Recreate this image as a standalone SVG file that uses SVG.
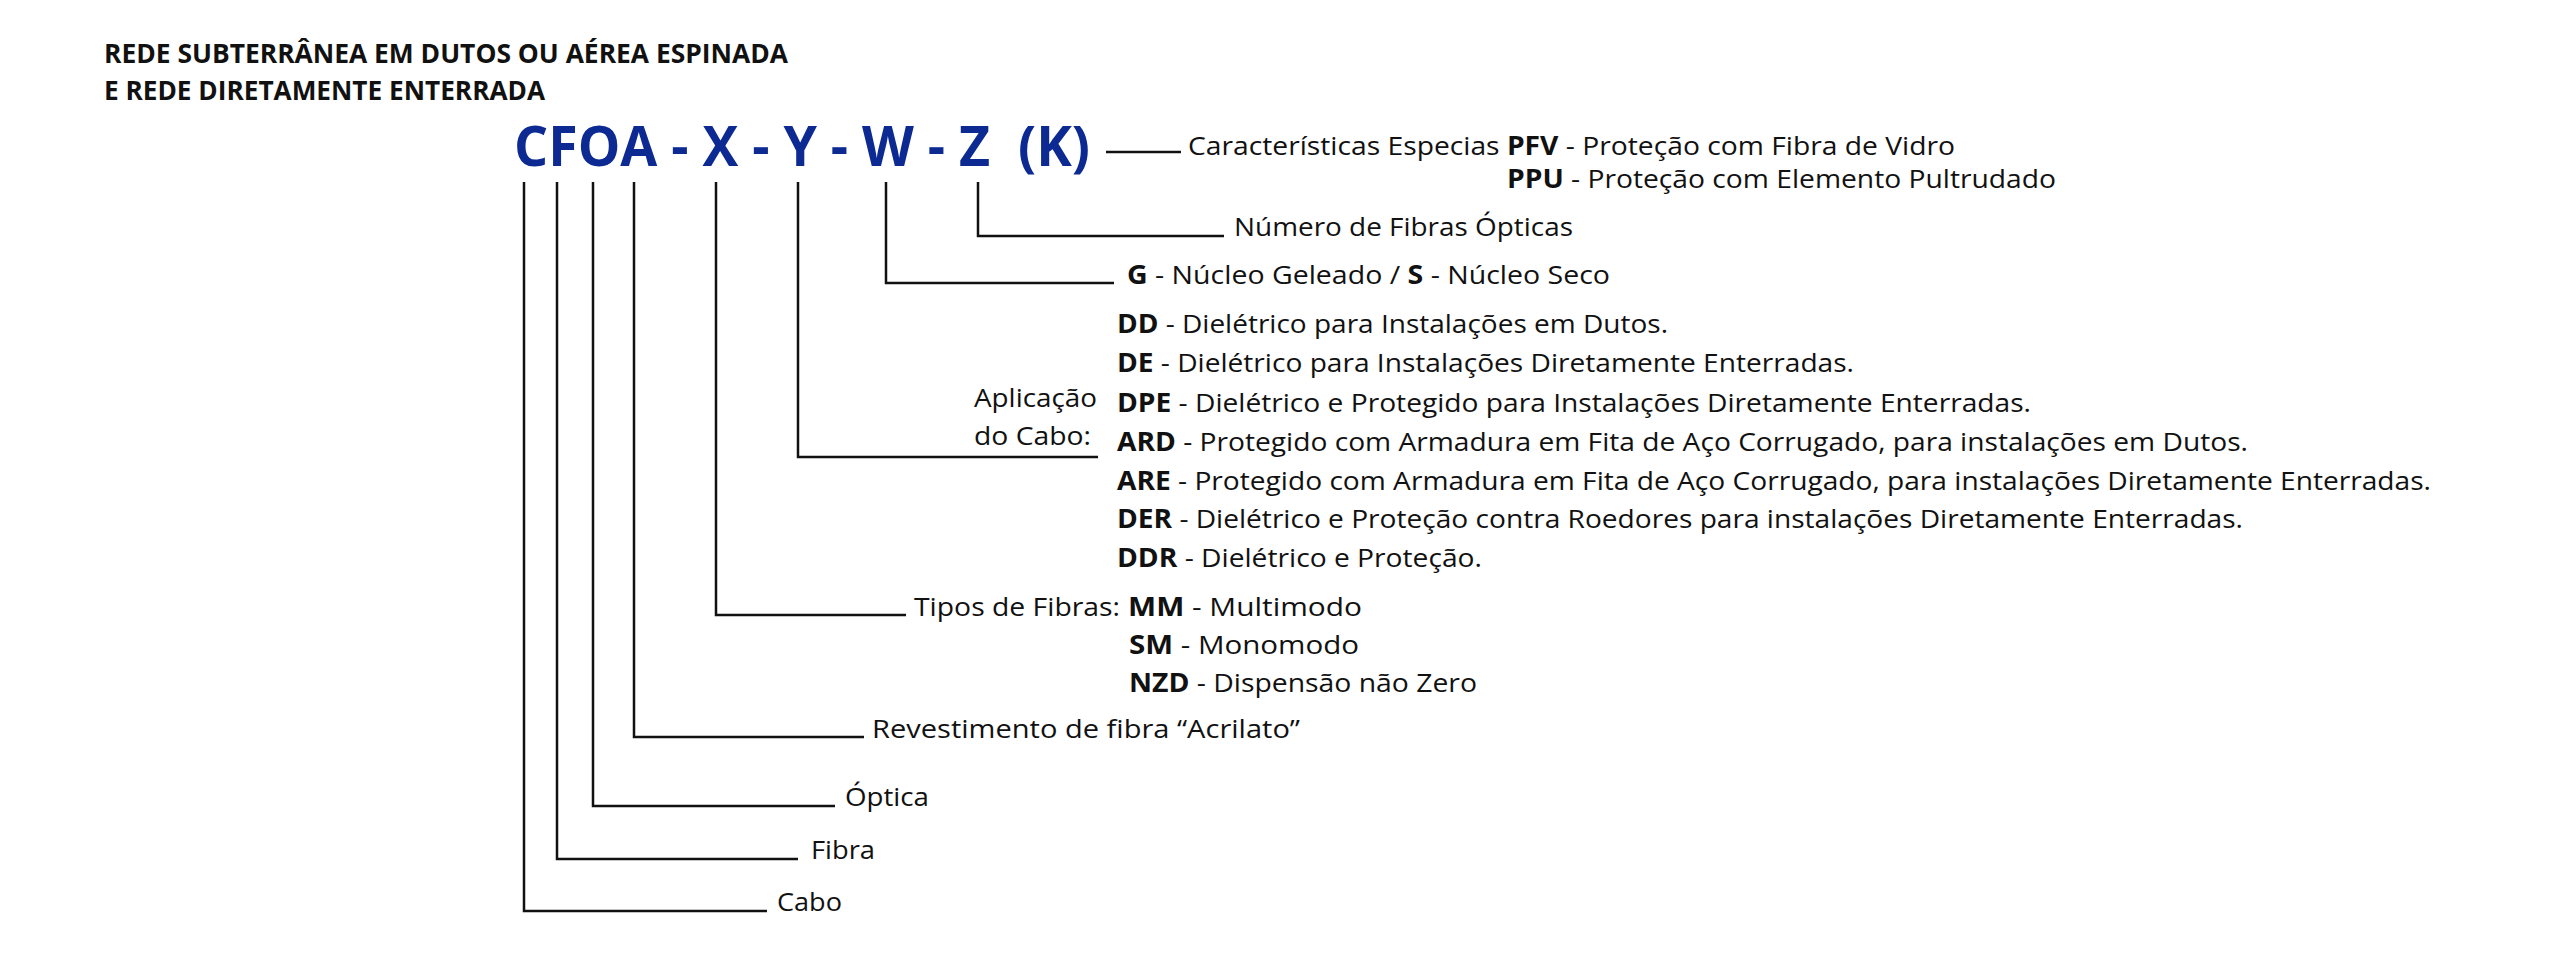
<svg xmlns="http://www.w3.org/2000/svg" width="2560" height="959" viewBox="0 0 2560 959">
<style>
text{font-family:"Open Sans","Liberation Sans",sans-serif;font-size:26px;fill:#111}
.t{font-weight:bold;font-size:26px}
.b{font-weight:bold}
.code{font-weight:bold;font-size:56px;fill:#0c2a92}
.c line,.c polyline{stroke:#111;stroke-width:2.5;fill:none}
</style>
<rect width="2560" height="959" fill="#fff"/>
<g id="title">
<text class="t" x="104" y="63" textLength="684" lengthAdjust="spacingAndGlyphs">REDE SUBTERRÂNEA EM DUTOS OU AÉREA ESPINADA</text>
<text class="t" x="104" y="100" textLength="441" lengthAdjust="spacingAndGlyphs">E REDE DIRETAMENTE ENTERRADA</text>
</g>
<g id="code"><text class="code" x="514" y="166" textLength="576" lengthAdjust="spacingAndGlyphs" xml:space="preserve">CFOA - X - Y - W - Z  (K)</text></g>
<g class="c" id="connectors">
<line x1="1106" y1="152" x2="1181" y2="152"/>
<polyline points="978,182 978,236 1224,236"/>
<polyline points="886,182 886,283 1114,283"/>
<polyline points="798,182 798,457 1098,457"/>
<polyline points="716,182 716,615 906,615"/>
<polyline points="634,182 634,737 864,737"/>
<polyline points="593,182 593,806 835,806"/>
<polyline points="557,182 557,859 798,859"/>
<polyline points="524,182 524,911 767,911"/>
</g>
<g id="k">
<text x="1188" y="155" textLength="767" lengthAdjust="spacingAndGlyphs">Características Especias <tspan class="b">PFV</tspan> - Proteção com Fibra de Vidro</text>
<text x="1507" y="188" textLength="549" lengthAdjust="spacingAndGlyphs"><tspan class="b">PPU</tspan> - Proteção com Elemento Pultrudado</text>
</g>
<g id="z"><text x="1234" y="236" textLength="339" lengthAdjust="spacingAndGlyphs">Número de Fibras Ópticas</text></g>
<g id="w"><text x="1127" y="284" textLength="483" lengthAdjust="spacingAndGlyphs"><tspan class="b">G</tspan> - Núcleo Geleado / <tspan class="b">S</tspan> - Núcleo Seco</text></g>
<g id="y">
<text x="974" y="407" textLength="123" lengthAdjust="spacingAndGlyphs">Aplicação</text>
<text x="974" y="445" textLength="117" lengthAdjust="spacingAndGlyphs">do Cabo:</text>
<text x="1117" y="333" textLength="551" lengthAdjust="spacingAndGlyphs"><tspan class="b">DD</tspan> - Dielétrico para Instalações em Dutos.</text>
<text x="1117" y="372" textLength="737" lengthAdjust="spacingAndGlyphs"><tspan class="b">DE</tspan> - Dielétrico para Instalações Diretamente Enterradas.</text>
<text x="1117" y="412" textLength="914" lengthAdjust="spacingAndGlyphs"><tspan class="b">DPE</tspan> - Dielétrico e Protegido para Instalações Diretamente Enterradas.</text>
<text x="1117" y="451" textLength="1131" lengthAdjust="spacingAndGlyphs"><tspan class="b">ARD</tspan> - Protegido com Armadura em Fita de Aço Corrugado, para instalações em Dutos.</text>
<text x="1117" y="490" textLength="1314" lengthAdjust="spacingAndGlyphs"><tspan class="b">ARE</tspan> - Protegido com Armadura em Fita de Aço Corrugado, para instalações Diretamente Enterradas.</text>
<text x="1117" y="528" textLength="1126" lengthAdjust="spacingAndGlyphs"><tspan class="b">DER</tspan> - Dielétrico e Proteção contra Roedores para instalações Diretamente Enterradas.</text>
<text x="1117" y="567" textLength="365" lengthAdjust="spacingAndGlyphs"><tspan class="b">DDR</tspan> - Dielétrico e Proteção.</text>
</g>
<g id="x">
<text x="914" y="616" textLength="206" lengthAdjust="spacingAndGlyphs">Tipos de Fibras:</text>
<text x="1128" y="616" textLength="234" lengthAdjust="spacingAndGlyphs"><tspan class="b">MM</tspan> - Multimodo</text>
<text x="1129" y="654" textLength="230" lengthAdjust="spacingAndGlyphs"><tspan class="b">SM</tspan> - Monomodo</text>
<text x="1129" y="692" textLength="348" lengthAdjust="spacingAndGlyphs"><tspan class="b">NZD</tspan> - Dispensão não Zero</text>
</g>
<g id="a"><text x="872" y="738" textLength="428" lengthAdjust="spacingAndGlyphs">Revestimento de fibra “Acrilato”</text></g>
<g id="o"><text x="845" y="806" textLength="84" lengthAdjust="spacingAndGlyphs">Óptica</text></g>
<g id="f"><text x="811" y="859" textLength="64" lengthAdjust="spacingAndGlyphs">Fibra</text></g>
<g id="c"><text x="777" y="911" textLength="65" lengthAdjust="spacingAndGlyphs">Cabo</text></g>
</svg>
